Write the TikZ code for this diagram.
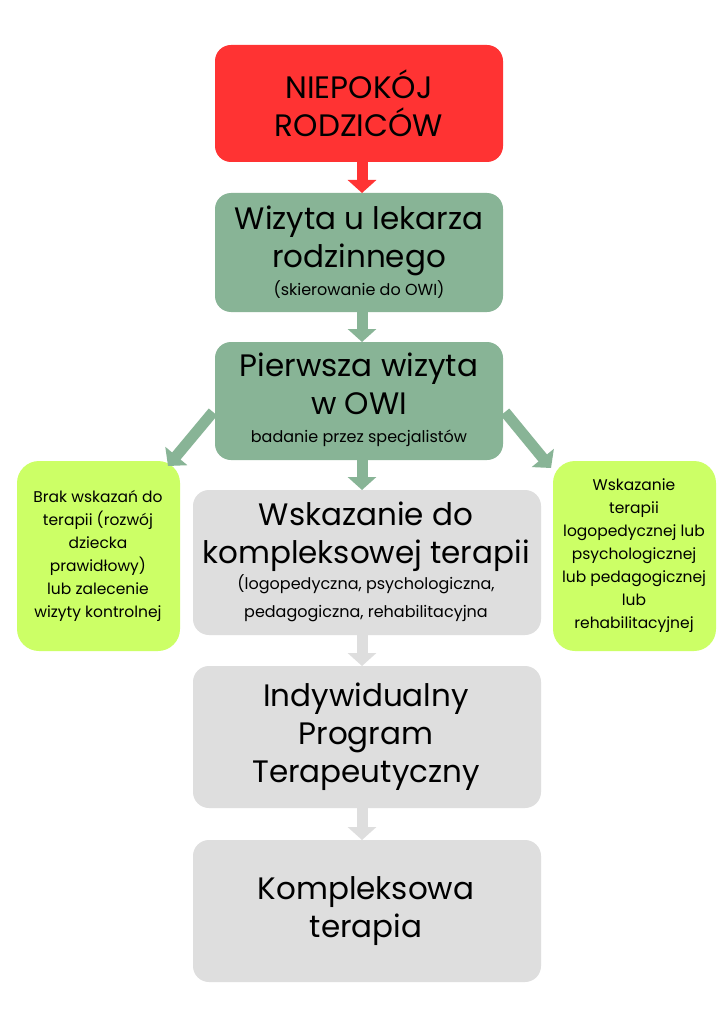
\documentclass[tikz,border=0pt]{standalone}
\usepackage{fontspec}
\setmainfont{Poppins}
\usetikzlibrary{arrows.meta}
\definecolor{red1}{HTML}{FF3333}
\definecolor{green1}{HTML}{88B496}
\definecolor{lime1}{HTML}{CCFF66}
\definecolor{gray1}{HTML}{DEDEDE}
\newcommand{\sm}[1]{{\fontsize{16}{22}\selectfont #1}}
\tikzset{
 box/.style={inner sep=0pt,align=center,font=\fontsize{31}{38}\selectfont},
 limef/.style={inner sep=0pt,align=center,font=\fontsize{15.5}{23}\selectfont},
 blk/.style={line width=11pt,-{Triangle[width=28pt,length=13pt]}},
}
\begin{document}
\begin{tikzpicture}[x=1pt,y=-1pt]
\useasboundingbox (0,0) rectangle (724,1024);
\fill[white] (0,0) rectangle (724,1024);
\fill[red1,rounded corners=16pt] (215,45) rectangle (503,162);
\node[box] (r) at (359,103) {NIEPOKÓJ\\RODZICÓW};
\fill[green1,rounded corners=16pt] (215,193) rectangle (503,312);
\node[box] (g1) at (359,252) {Wizyta u lekarza\\rodzinnego\\[-10pt]\sm{(skierowanie do OWI)}};
\fill[green1,rounded corners=16pt] (215,342) rectangle (503,460);
\node[box] (g2) at (359,400) {Pierwsza wizyta\\w OWI\\[-10pt]\sm{badanie przez specjalistów}};
\fill[lime1,rounded corners=22pt] (17,461) rectangle (180,651);
\node[limef] (l) at (98,556) {Brak wskazań do\\terapii (rozwój\\dziecka\\prawidłowy)\\lub zalecenie\\wizyty kontrolnej};
\fill[lime1,rounded corners=22pt] (553,461) rectangle (716,651);
\node[limef] (rt) at (634,556) {Wskazanie\\terapii\\logopedycznej lub\\psychologicznej\\lub pedagogicznej\\lub\\rehabilitacyjnej};
\fill[gray1,rounded corners=16pt] (193,490) rectangle (541,635);
\node[box] (k1) at (366,562) {Wskazanie do\\kompleksowej terapii\\[-12pt]\sm{(logopedyczna, psychologiczna,}\\[-10pt]\sm{pedagogiczna, rehabilitacyjna}};
\fill[gray1,rounded corners=16pt] (193,666) rectangle (541,808);
\node[box] (k2) at (366,737) {Indywidualny\\Program\\Terapeutyczny};
\fill[gray1,rounded corners=16pt] (193,840) rectangle (541,982);
\node[box] (k3) at (366,911) {Kompleksowa\\terapia};
\coordinate (a1) at (362,162); \coordinate (b1) at (362,193);
\coordinate (a2) at (362,312); \coordinate (b2) at (362,342);
\coordinate (a3) at (362,460); \coordinate (b3) at (362,490);
\coordinate (a4) at (362,635); \coordinate (b4) at (362,666);
\coordinate (a5) at (362,808); \coordinate (b5) at (362,840);
\coordinate (a6) at (213,412); \coordinate (b6) at (168,466);
\coordinate (a7) at (505,412); \coordinate (b7) at (551,468);
\draw[blk,red1] (a1) -- (b1);
\draw[blk,green1] (a2) -- (b2);
\draw[blk,green1] (a3) -- (b3);
\draw[blk,gray1] (a4) -- (b4);
\draw[blk,gray1] (a5) -- (b5);
\draw[blk,green1] (a6) -- (b6);
\draw[blk,green1] (a7) -- (b7);
\end{tikzpicture}
\end{document}
